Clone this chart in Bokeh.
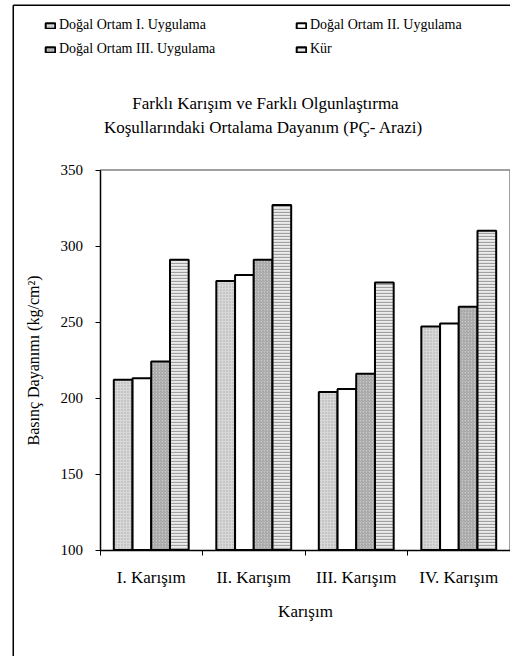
from bokeh.plotting import figure
from bokeh.models import Range1d, FixedTicker, Legend, LegendItem, Label
from bokeh.embed import file_html
from bokeh.resources import INLINE

# ---- data ----
categories = ["I. Karışım", "II. Karışım", "III. Karışım", "IV. Karışım"]
series_names = ["Doğal Ortam I. Uygulama", "Doğal Ortam II. Uygulama",
                "Doğal Ortam III. Uygulama", "Kür"]
dogal_1 = [212, 277, 204, 247]
dogal_2 = [213, 281, 206, 249]
dogal_3 = [224, 291, 216, 260]
kur = [291, 327, 276, 310]
y_ticks = [100, 150, 200, 250, 300, 350]
y_min, y_max = 100, 350
title_lines = ["Farklı Karışım ve Farklı Olgunlaştırma",
               "Koşullarındaki Ortalama Dayanım (PÇ- Arazi)"]
y_label = "Basınç Dayanımı (kg/cm²)"
x_label = "Karışım"

FONT = "Liberation Serif"

# ---- layout (pixels on the canvas) ----
W, H = 510, 656
PLOT_L, PLOT_R = 99.5, 509.5     # plot area left / right
PLOT_T, PLOT_B = 169.5, 549.5    # plot area top / bottom
n = len(categories)
kx = n / (PLOT_R - PLOT_L)               # data units per px (x)
ky = (y_max - y_min) / (PLOT_B - PLOT_T)  # data units per px (y)

def dx(px):
    return (px - PLOT_L) * kx

def dy(py):
    return y_max + (PLOT_T - py) * ky

p = figure(width=W, height=H, output_backend="svg", toolbar_location=None,
           x_range=Range1d(dx(0), dx(W)), y_range=Range1d(dy(H), dy(0)),
           min_border=0, min_border_left=0, min_border_right=0,
           min_border_top=0, min_border_bottom=0)
p.background_fill_color = "white"
p.border_fill_color = "white"
p.outline_line_color = None
p.xgrid.visible = False
p.ygrid.visible = False

# outer chart border (left and top edges visible)
p.segment(x0=[dx(12.75), dx(12.75)], y0=[dy(4.75), dy(4.75)],
          x1=[dx(12.75), dx(W + 5)], y1=[dy(H + 5), dy(4.75)],
          line_color="black", line_width=1.5)

# plot-area frame (grey top and right edges)
p.segment(x0=[0, n], y0=[y_max, y_min], x1=[n, n], y1=[y_max, y_max],
          line_color="#808080", line_width=1.5)

styles = [
    dict(fill_color="#d8d8d8", hatch_pattern="dot", hatch_color="#a8a8a8", hatch_scale=3, hatch_weight=1),
    dict(fill_color="white"),
    dict(fill_color="#c8c8c8", hatch_pattern="right_diagonal_line", hatch_color="#9c9c9c", hatch_scale=3, hatch_weight=1),
    dict(fill_color="#ececec", hatch_pattern="horizontal_line", hatch_color="#a0a0a0", hatch_scale=3, hatch_weight=1.3),
]
series = [dogal_1, dogal_2, dogal_3, kur]
offsets = [-0.274, -0.091, 0.091, 0.274]
bar_w = 0.1825
renderers = []
for vals, off, st in zip(series, offsets, styles):
    xs = [i + 0.5 + off for i in range(n)]
    renderers.append(p.vbar(x=xs, top=vals, bottom=y_min, width=bar_w,
                            line_color="black", line_width=2, **st))

# y axis
ya = p.yaxis[0]
ya.fixed_location = 0
ya.bounds = (y_min, y_max)
ya.ticker = FixedTicker(ticks=y_ticks, minor_ticks=[])
ya.major_tick_out = 5
ya.major_tick_in = 0
ya.axis_line_width = 1.5
ya.major_label_text_font = FONT
ya.major_label_text_font_size = "15px"
ya.major_label_text_color = "black"
ya.major_label_standoff = 12
ya.axis_label = y_label
ya.axis_label_text_font = FONT
ya.axis_label_text_font_size = "16px"
ya.axis_label_text_font_style = "normal"
ya.axis_label_text_color = "black"
ya.axis_label_standoff = 16

# x axis
xa = p.xaxis[0]
xa.fixed_location = y_min
xa.bounds = (0, n)
xa.ticker = FixedTicker(ticks=[i + 0.5 for i in range(n)], minor_ticks=list(range(n + 1)))
xa.major_label_overrides = {i + 0.5: c for i, c in enumerate(categories)}
xa.major_tick_out = 0
xa.major_tick_in = 0
xa.minor_tick_out = 5
xa.minor_tick_in = 0
xa.minor_tick_line_color = "black"
xa.axis_line_width = 1.5
xa.major_label_text_font = FONT
xa.major_label_text_font_size = "17px"
xa.major_label_text_color = "black"
xa.major_label_standoff = 13
xa.axis_label = x_label
xa.axis_label_text_font = FONT
xa.axis_label_text_font_size = "17px"
xa.axis_label_text_font_style = "normal"
xa.axis_label_text_color = "black"
xa.axis_label_standoff = 11

# legend: two columns of two rows
def make_legend(idx, left_px, bottom_px):
    return Legend(items=[LegendItem(label=series_names[i], renderers=[renderers[i]]) for i in idx],
                  location=(left_px, H - bottom_px), orientation="vertical",
                  padding=0, margin=0, glyph_width=12, glyph_height=7,
                  label_height=16, spacing=8, label_standoff=3,
                  border_line_color=None, background_fill_alpha=0,
                  label_text_font=FONT, label_text_font_size="14px", label_text_color="black")

p.add_layout(make_legend([0, 2], 44, 57))
p.add_layout(make_legend([1, 3], 295, 57))

# title (two lines)
for txt, cx, cy in zip(title_lines, [265, 263], [103, 127]):
    p.add_layout(Label(x=dx(cx), y=dy(cy), text=txt, text_align="center", text_baseline="middle",
                       text_font=FONT, text_font_size="17px", text_color="black"))

open("out.html", "w").write(file_html(p, INLINE))
